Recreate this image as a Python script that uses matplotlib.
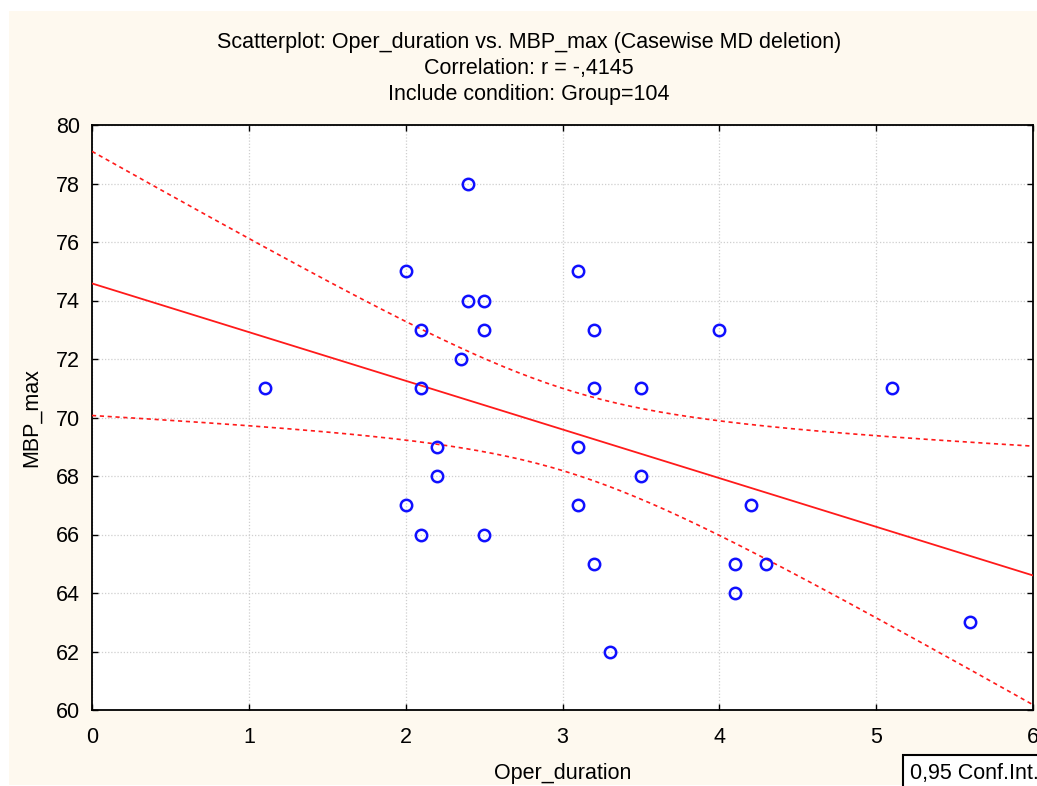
import numpy as np
import matplotlib
matplotlib.use("Agg")
import matplotlib.pyplot as plt
from matplotlib.patches import Rectangle

plt.rcParams["font.family"] = ["Liberation Sans", "DejaVu Sans"]

# Oper_duration / MBP_max pairs, Group=104
oper_duration = [1.1, 2.0, 2.0, 2.1, 2.1, 2.1, 2.2, 2.2, 2.35, 2.4, 2.4,
                 2.5, 2.5, 2.5, 3.1, 3.1, 3.1, 3.2, 3.2, 3.2, 3.3, 3.5,
                 3.5, 4.0, 4.1, 4.1, 4.2, 4.3, 5.1, 5.6]
mbp_max = [71, 75, 67, 73, 71, 66, 69, 68, 72, 78, 74,
           74, 73, 66, 75, 69, 67, 73, 71, 65, 62, 71,
           68, 73, 65, 64, 67, 65, 71, 63]

x_ticks = [0, 1, 2, 3, 4, 5, 6]
y_ticks = list(range(60, 81, 2))
title_lines = [
    "Scatterplot: Oper_duration vs. MBP_max (Casewise MD deletion)",
    "Correlation: r = -,4145",
    "Include condition: Group=104",
]
t_crit = 2.048  # two-sided 95 %, df = n - 2 = 28

W, H = 1037, 786
FS = 15.5

x = np.asarray(oper_duration, dtype=float)
y = np.asarray(mbp_max, dtype=float)
n = len(x)
slope, intercept = np.polyfit(x, y, 1)
resid = y - (intercept + slope * x)
s_err = np.sqrt(np.sum(resid ** 2) / (n - 2))
sxx = np.sum((x - x.mean()) ** 2)

xs = np.linspace(0, 6, 200)
fit = intercept + slope * xs
half = t_crit * s_err * np.sqrt(1.0 / n + (xs - x.mean()) ** 2 / sxx)

fig = plt.figure(figsize=(W / 100, H / 100), dpi=100, facecolor="white")
# cream panel behind the whole graph
fig.patches.append(Rectangle((9 / W, 1 / H), 1 - 9 / W, 1 - 12 / H,
                             transform=fig.transFigure, facecolor="#fef9ef",
                             edgecolor="none", zorder=-10))

ax = fig.add_axes([92 / W, 1 - 710 / H, (1033 - 92) / W, (710 - 125) / H])
ax.set_facecolor("white")

red = "#ff1a1a"
ax.plot(xs, fit, color=red, lw=1.3, zorder=3)
ax.plot(xs, fit + half, color=red, lw=1.2, ls=(0, (2.5, 2.2)), zorder=3)
ax.plot(xs, fit - half, color=red, lw=1.2, ls=(0, (2.5, 2.2)), zorder=3)
ax.plot(x, y, "o", ms=8.2, mfc="none", mec="#1010ff", mew=1.8, zorder=4, clip_on=False)

ax.set_xlim(0, 6)
ax.set_ylim(60, 80)
ax.set_xticks(x_ticks)
ax.set_yticks(y_ticks)
ax.grid(True, color="#cfcfcf", lw=0.9, ls=(0, (1, 1.5)))
ax.set_axisbelow(True)
ax.tick_params(direction="in", length=4, width=1, labelsize=FS,
               top=True, right=True, labeltop=False, labelright=False)
ax.tick_params(axis="x", pad=12)
ax.tick_params(axis="y", pad=8.6)
for side in ax.spines.values():
    side.set_linewidth(1.3)

ax.set_xlabel("Oper_duration", fontsize=FS, va="center")
ax.xaxis.set_label_coords(0.5, (710 - 773) / 585)
ax.set_ylabel("MBP_max", fontsize=FS, va="center")
ax.yaxis.set_label_coords((31 - 92) / 941, 0.5)

for i, line in enumerate(title_lines):
    fig.text(529 / W, 1 - (48 + 26 * i) / H, line, ha="center", va="baseline",
             fontsize=FS)

# legend box for the confidence band, running off the right/bottom edge
fig.patches.append(Rectangle((903 / W, -10 / H), 200 / W, (10 + 786 - 755) / H,
                             transform=fig.transFigure, facecolor="white",
                             edgecolor="black", lw=1.5, clip_on=False))
fig.text(910 / W, 1 - 779 / H, "0,95 Conf.Int.", ha="left", va="baseline",
         fontsize=FS)

fig.savefig("out.png", dpi=100, facecolor=fig.get_facecolor())
